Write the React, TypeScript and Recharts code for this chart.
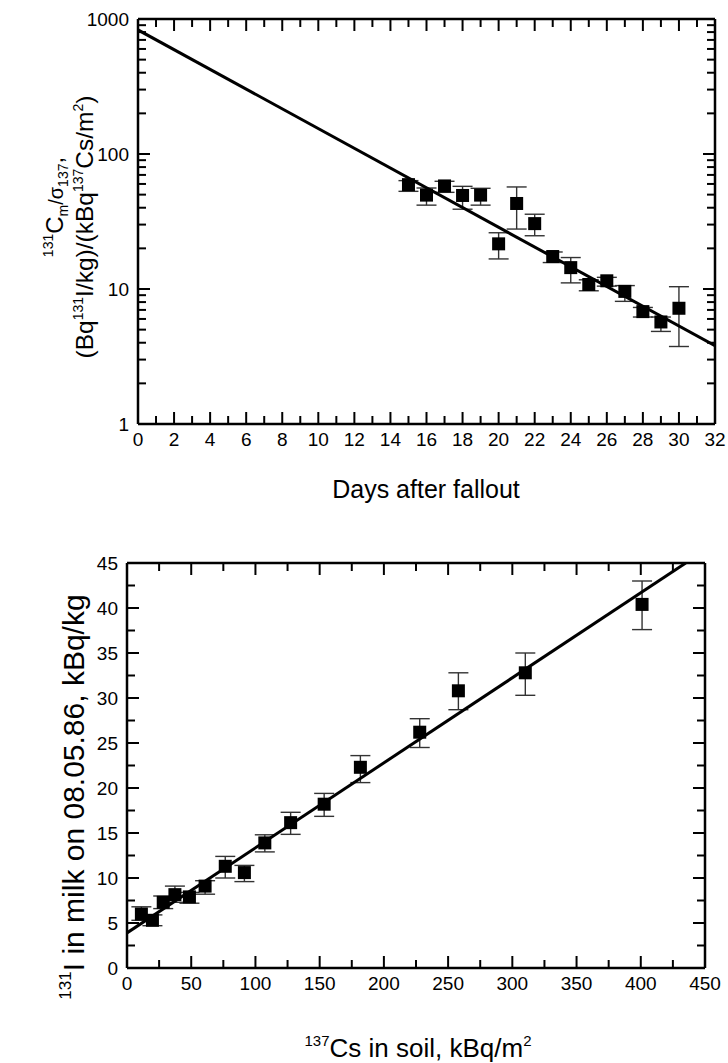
import React from "react";
import { ScatterChart, Scatter, XAxis, YAxis, ErrorBar } from "recharts";

const FONT = "Arial, 'Liberation Sans', sans-serif";

// upper panel: 131I / 137Cs ratio in milk vs days after fallout
const days = [15, 16, 17, 18, 19, 20, 21, 22, 23, 24, 25, 26, 27, 28, 29, 30];
const ratio = [59.3, 49.6, 58, 49.3, 49.6, 21.6, 43, 30.5, 17.4, 14.4, 10.8, 11.5, 9.6, 6.8, 5.7, 7.2];
const ratioLow = [52.9, 41.8, 52, 39, 41.8, 16.7, 27.8, 24.8, 15.7, 11.1, 9.7, 10.5, 8.1, 6.2, 4.85, 3.75];
const ratioHigh = [63.5, 56, 62.8, 57.6, 55.7, 26.1, 57, 35.8, 18.8, 17.1, 11.7, 12.2, 10.6, 7.3, 6.2, 10.4];
const fitDays = [0, 32];
const fitRatio = [830, 3.8];

const dayMajor = [0, 2, 4, 6, 8, 10, 12, 14, 16, 18, 20, 22, 24, 26, 28, 30, 32];
const dayMinor = [1, 3, 5, 7, 9, 11, 13, 15, 17, 19, 21, 23, 25, 27, 29, 31];
const ratioMajor = [1, 10, 100, 1000];
const ratioMinor = [2, 3, 4, 5, 6, 7, 8, 9, 20, 30, 40, 50, 60, 70, 80, 90, 200, 300, 400, 500, 600, 700, 800, 900];

// lower panel: 131I in milk vs 137Cs in soil
const soil = [11.2, 19.8, 28.2, 37.3, 48.6, 60.8, 76.5, 91.4, 107.3, 127.4, 153.5, 181.7, 227.9, 258, 310.1, 401];
const milk = [6.0, 5.3, 7.3, 8.15, 7.9, 9.1, 11.3, 10.6, 13.9, 16.15, 18.2, 22.3, 26.2, 30.8, 32.8, 40.4];
const milkLow = [5.3, 4.7, 6.6, 7.3, 7.2, 8.2, 10.0, 9.6, 12.9, 14.85, 16.85, 20.6, 24.5, 28.7, 30.3, 37.6];
const milkHigh = [6.8, 5.9, 8.0, 9.1, 8.4, 9.7, 12.4, 11.4, 14.8, 17.3, 19.4, 23.6, 27.7, 32.8, 35.0, 43.0];
const fitSoil = [0, 435];
const fitMilk = [3.9, 45];

const soilMajor = [0, 50, 100, 150, 200, 250, 300, 350, 400, 450];
const soilMinor = [25, 75, 125, 175, 225, 275, 325, 375, 425];
const milkMajor = [0, 5, 10, 15, 20, 25, 30, 35, 40, 45];
const milkMinor = [2.5, 7.5, 12.5, 17.5, 22.5, 27.5, 32.5, 37.5, 42.5];

const toPoints = (xs: number[], ys: number[], lo?: number[], hi?: number[]) =>
  xs.map((x, i) => ({
    x,
    y: ys[i],
    err: lo && hi ? [ys[i] - lo[i], hi[i] - ys[i]] : 0,
  }));

const ratioPoints = toPoints(days, ratio, ratioLow, ratioHigh);
const ratioFit = toPoints(fitDays, fitRatio);
const milkPoints = toPoints(soil, milk, milkLow, milkHigh);
const milkFit = toPoints(fitSoil, fitMilk);

const frame = { stroke: "#000", strokeWidth: 2.5 };
const tickMark = { stroke: "#000", strokeWidth: 2 };
const labelStyle = { fontSize: 19, fill: "#000", fontFamily: FONT };

const nothing = () => <g />;
const square = (p: any) => <rect x={p.cx - 6.5} y={p.cy - 6.5} width={13} height={13} fill="#000" />;

// mirrored 1px axes that only draw inward tick marks (and the top/right frame);
// each pair gets an empty series so the axes have something bound to them
const tickAxes = (
  xDomain: number[], xMajor: number[], xMinor: number[],
  yDomain: number[], yMajor: number[], yMinor: number[],
  yScale: "linear" | "log", data: { x: number; y: number }[]
) => {
  const pairs = [
    { xs: "bottom" as const, ys: "left" as const, size: 12, frameOn: false, xt: xMajor, yt: yMajor },
    { xs: "bottom" as const, ys: "left" as const, size: 7, frameOn: false, xt: xMinor, yt: yMinor },
    { xs: "top" as const, ys: "right" as const, size: 12, frameOn: true, xt: xMajor, yt: yMajor },
    { xs: "top" as const, ys: "right" as const, size: 7, frameOn: false, xt: xMinor, yt: yMinor },
  ];
  return pairs.flatMap((p, i) => [
    <XAxis key={`x${i}`} xAxisId={`x${i}`} orientation={p.xs} mirror type="number" dataKey="x" domain={xDomain} ticks={p.xt}
      height={1} interval={0} allowDataOverflow tick={nothing} tickSize={p.size} tickLine={tickMark}
      axisLine={p.frameOn ? frame : false} stroke="#000" strokeWidth={2} />,
    <YAxis key={`y${i}`} yAxisId={`y${i}`} orientation={p.ys} mirror type="number" dataKey="y" scale={yScale} domain={yDomain} ticks={p.yt}
      width={1} interval={0} allowDataOverflow tick={nothing} tickSize={p.size} tickLine={tickMark}
      axisLine={p.frameOn ? frame : false} stroke="#000" strokeWidth={2} />,
    <Scatter key={`s${i}`} xAxisId={`x${i}`} yAxisId={`y${i}`} data={data} shape={nothing} isAnimationActive={false} />,
  ]);
};

const App = () => {
  return (
    <div style={{ position: "absolute", left: 0, top: 0, width: 728, height: 1063, background: "#fff" }}>
      <div style={{ position: "absolute", left: 0, top: 0 }}>
        <ScatterChart width={728} height={520} margin={{ top: 19, right: 13, bottom: 56, left: 38 }}>
          <XAxis xAxisId="x" type="number" dataKey="x" domain={[0, 32]} ticks={dayMajor} height={40} interval={0}
            allowDataOverflow tickLine={false} tickSize={0} tickMargin={9} tick={labelStyle} axisLine={frame} stroke="#000" strokeWidth={2.5} />
          <YAxis yAxisId="y" type="number" dataKey="y" scale="log" domain={[1, 1000]} ticks={ratioMajor} width={100} interval={0}
            allowDataOverflow tickLine={false} tickSize={0} tickMargin={9} tick={labelStyle} axisLine={frame} stroke="#000" strokeWidth={2.5} />
          {tickAxes([0, 32], dayMajor, dayMinor, [1, 1000], ratioMajor, ratioMinor, "log", ratioFit)}
          <Scatter xAxisId="x" yAxisId="y" data={ratioFit} shape={nothing} line={{ stroke: "#000", strokeWidth: 3 }} isAnimationActive={false} />
          <Scatter xAxisId="x" yAxisId="y" data={ratioPoints} shape={square} isAnimationActive={false}>
            <ErrorBar dataKey="err" direction="y" width={10} stroke="#333" strokeWidth={1.4} />
          </Scatter>
        </ScatterChart>
      </div>
      <div style={{ position: "absolute", left: 0, top: 520 }}>
        <ScatterChart width={728} height={543} margin={{ top: 43, right: 23, bottom: 55, left: 27 }}>
          <XAxis xAxisId="x" type="number" dataKey="x" domain={[0, 450]} ticks={soilMajor} height={40} interval={0}
            allowDataOverflow tickLine={false} tickSize={0} tickMargin={9} tick={labelStyle} axisLine={frame} stroke="#000" strokeWidth={2.5} />
          <YAxis yAxisId="y" type="number" dataKey="y" domain={[0, 45]} ticks={milkMajor} width={100} interval={0}
            allowDataOverflow tickLine={false} tickSize={0} tickMargin={9} tick={labelStyle} axisLine={frame} stroke="#000" strokeWidth={2.5} />
          {tickAxes([0, 450], soilMajor, soilMinor, [0, 45], milkMajor, milkMinor, "linear", milkFit)}
          <Scatter xAxisId="x" yAxisId="y" data={milkFit} shape={nothing} line={{ stroke: "#000", strokeWidth: 3 }} isAnimationActive={false} />
          <Scatter xAxisId="x" yAxisId="y" data={milkPoints} shape={square} isAnimationActive={false}>
            <ErrorBar dataKey="err" direction="y" width={10} stroke="#333" strokeWidth={1.4} />
          </Scatter>
        </ScatterChart>
      </div>
      <svg width={728} height={1063} style={{ position: "absolute", left: 0, top: 0, pointerEvents: "none" }} fontFamily={FONT} fill="#000">
        <text x={426} y={498} textAnchor="middle" fontSize={25}>Days after fallout</text>
        <g transform="rotate(-90 63 207)">
          <text x={63} y={207} textAnchor="middle" fontSize={24}>
            <tspan fontSize={14} dy={-10}>131</tspan>
            <tspan dy={10}>C</tspan>
            <tspan fontSize={14} dy={5}>m</tspan>
            <tspan dy={-5} fontSize={20}>/σ</tspan>
            <tspan fontSize={14} dy={5}>137</tspan>
            <tspan dy={-5}>,</tspan>
          </text>
        </g>
        <g transform="rotate(-90 93 227)">
          <text x={93} y={227} textAnchor="middle" fontSize={24.5}>
            <tspan>(Bq</tspan>
            <tspan fontSize={14} dy={-10}>131</tspan>
            <tspan dy={10}>I/kg)/(kBq</tspan>
            <tspan fontSize={14} dy={-10}>137</tspan>
            <tspan dy={10}>Cs/m</tspan>
            <tspan fontSize={14} dy={-10}>2</tspan>
            <tspan dy={10}>)</tspan>
          </text>
        </g>
        <text x={418} y={1057} textAnchor="middle" fontSize={26}>
          <tspan fontSize={15} dy={-11}>137</tspan>
          <tspan dy={11}>Cs in soil, kBq/m</tspan>
          <tspan fontSize={15} dy={-11}>2</tspan>
        </text>
        <g transform="rotate(-90 84 797)">
          <text x={84} y={797} textAnchor="middle" fontSize={30}>
            <tspan fontSize={17} dy={-13}>131</tspan>
            <tspan dy={13}>I in milk on 08.05.86, kBq/kg</tspan>
          </text>
        </g>
      </svg>
    </div>
  );
};

export default App;
